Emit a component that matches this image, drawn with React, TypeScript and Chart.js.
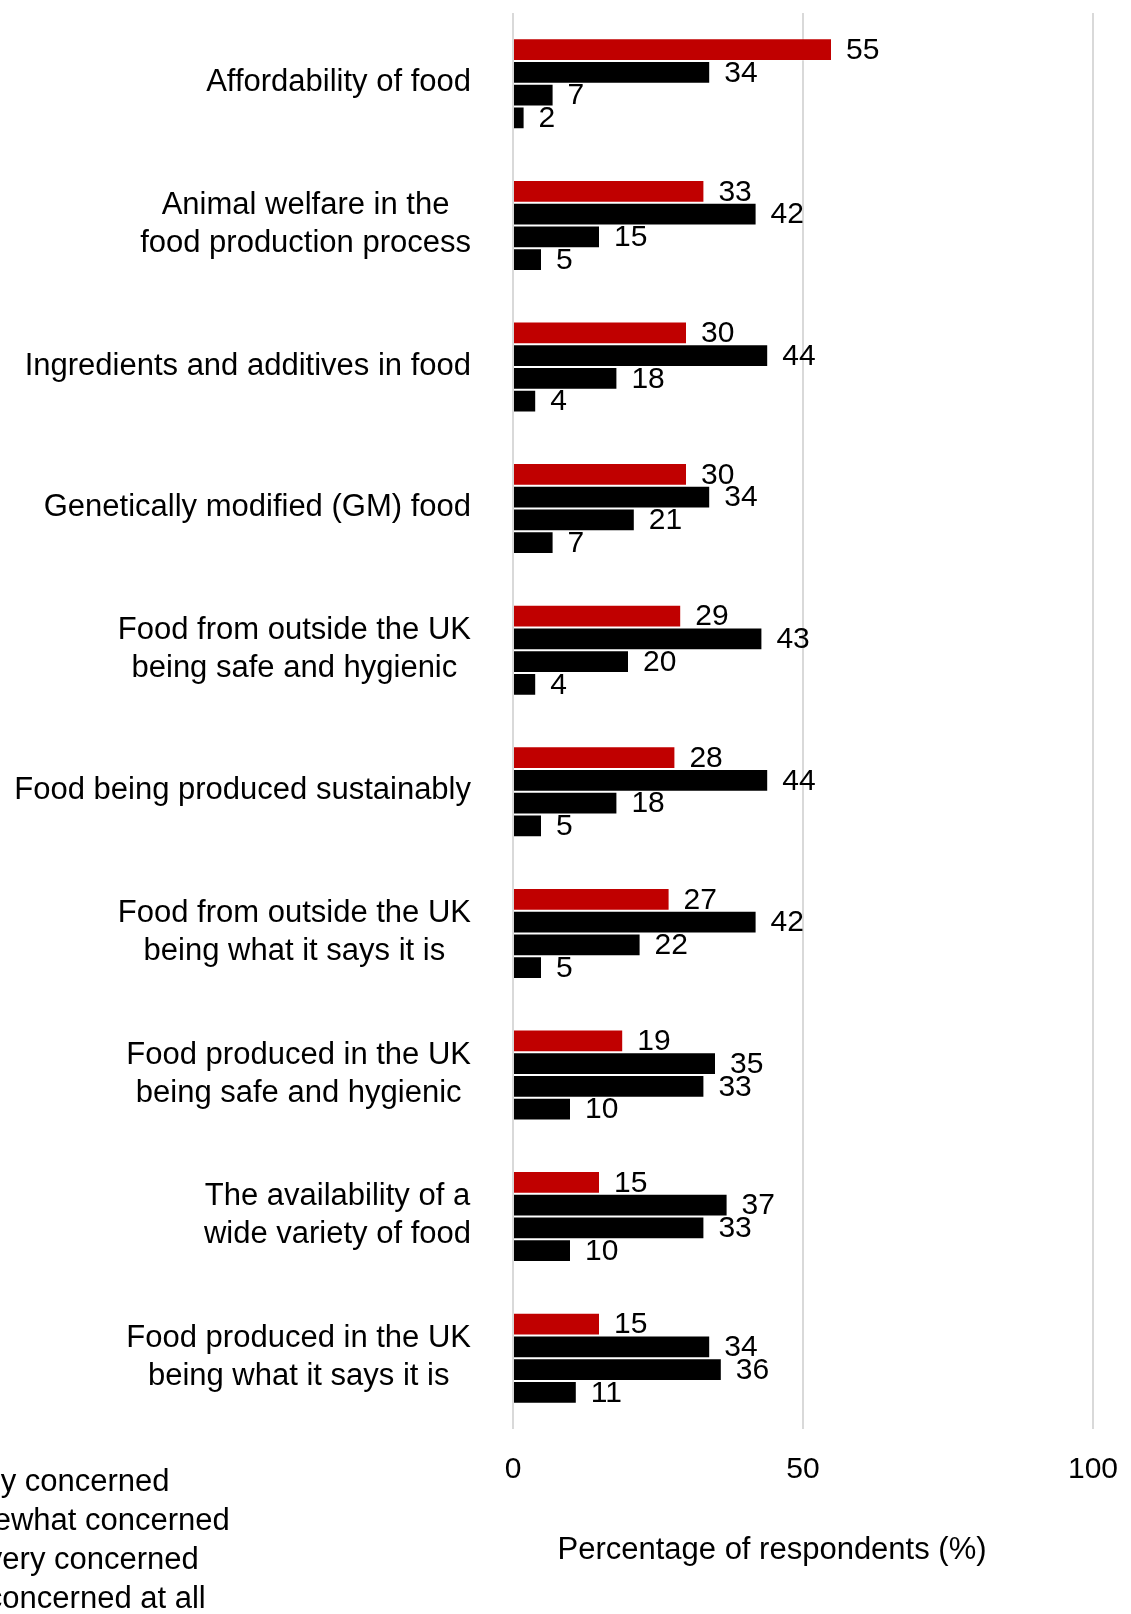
import React, { useEffect, useRef } from "react";
import { Chart, registerables } from "chart.js";

Chart.register(...registerables);

const categories: string[][] = [
  ["Affordability of food"],
  ["Animal welfare in the", "food production process"],
  ["Ingredients and additives in food"],
  ["Genetically modified (GM) food"],
  ["Food from outside the UK", "being safe and hygienic"],
  ["Food being produced sustainably"],
  ["Food from outside the UK", "being what it says it is"],
  ["Food produced in the UK", "being safe and hygienic"],
  ["The availability of a", "wide variety of food"],
  ["Food produced in the UK", "being what it says it is"],
];

const seriesNames = [
  "Highly concerned",
  "Somewhat concerned",
  "Not very concerned",
  "Not concerned at all",
];

const highlyConcerned = [55, 33, 30, 30, 29, 28, 27, 19, 15, 15];
const somewhatConcerned = [34, 42, 44, 34, 43, 44, 42, 35, 37, 34];
const notVeryConcerned = [7, 15, 18, 21, 20, 18, 22, 33, 33, 36];
const notConcernedAtAll = [2, 5, 4, 7, 4, 5, 5, 10, 10, 11];

const seriesColors = ["#C00000", "#000000", "#000000", "#000000"];

const xMin = 0;
const xMax = 100;
const xStep = 50;
const xTitle = "Percentage of respondents (%)";

const FONT = '"Liberation Sans", Arial, Helvetica, sans-serif';
const W = 1131;
const H = 1614;

const overlayPlugin = {
  id: "overlay",
  afterDatasetsDraw(chart: any) {
    const ctx = chart.ctx as CanvasRenderingContext2D;
    ctx.save();
    ctx.fillStyle = "#000";

    // data labels
    ctx.font = `30px ${FONT}`;
    ctx.textAlign = "left";
    ctx.textBaseline = "middle";
    chart.data.datasets.forEach((ds: any, di: number) => {
      const meta = chart.getDatasetMeta(di);
      meta.data.forEach((el: any, i: number) => {
        const p = el.getProps(["x", "y"], true);
        ctx.fillText(String(ds.data[i]), p.x + 14, p.y + 1);
      });
    });

    // category labels (block right-aligned, lines centred in block)
    const yScale = chart.scales.y;
    const labelRight = yScale.right - 42;
    ctx.font = `31px ${FONT}`;
    ctx.textAlign = "center";
    ctx.textBaseline = "middle";
    (chart.data.labels as any[]).forEach((lab: any, i: number) => {
      const lines: string[] = Array.isArray(lab) ? lab : [String(lab)];
      const w = Math.max(...lines.map((l) => ctx.measureText(l).width));
      const cx = labelRight - w / 2;
      const cy = yScale.getPixelForValue(i) - 1;
      const lh = 38;
      lines.forEach((l, k) => {
        ctx.fillText(l, cx, cy + (k - (lines.length - 1) / 2) * lh);
      });
    });

    // x axis title
    const xScale = chart.scales.x;
    ctx.fillText(xTitle, xScale.left + 259, xScale.top + 121);

    // legend (partly outside the left edge, as in the reference)
    ctx.textAlign = "left";
    ctx.textBaseline = "alphabetic";
    chart.data.datasets.forEach((ds: any, di: number) => {
      ctx.fillText(ds.label, -70, 1491 + di * 39);
    });

    ctx.restore();
  },
};

export default function App() {
  const canvasRef = useRef<HTMLCanvasElement | null>(null);

  useEffect(() => {
    if (!canvasRef.current) return;
    const seriesValues = [highlyConcerned, somewhatConcerned, notVeryConcerned, notConcernedAtAll];
    const chart = new Chart(canvasRef.current, {
      type: "bar",
      data: {
        labels: categories,
        datasets: seriesNames.map((name, i) => ({
          label: name,
          data: seriesValues[i],
          backgroundColor: seriesColors[i],
          borderColor: "rgba(255,255,255,0.25)",
          borderWidth: 1,
          categoryPercentage: 0.643,
          barPercentage: 1,
        })),
      },
      options: {
        indexAxis: "y",
        responsive: false,
        animation: false,
        devicePixelRatio: 1,
        layout: { padding: { top: 13, right: 38, left: 0, bottom: 0 } },
        plugins: {
          legend: { display: false },
          tooltip: { enabled: false },
          title: { display: false },
        },
        scales: {
          x: {
            type: "linear",
            position: "bottom",
            min: xMin,
            max: xMax,
            ticks: {
              stepSize: xStep,
              padding: 23,
              color: "#000",
              font: { family: FONT, size: 30 },
            },
            grid: {
              color: "#d9d9d9",
              lineWidth: 2,
              drawTicks: false,
            },
            border: { display: false },
            afterFit: (s: any) => {
              s.height = 185;
              s.paddingLeft = 0;
              s.paddingRight = 0;
            },
          },
          y: {
            type: "category",
            ticks: { display: false },
            grid: { display: false, drawTicks: false },
            border: { display: false },
            afterFit: (s: any) => {
              s.width = 513;
              s.paddingTop = 0;
              s.paddingBottom = 0;
            },
          },
        },
      },
      plugins: [overlayPlugin],
    } as any);
    return () => chart.destroy();
  }, []);

  return (
    <div style={{ position: "fixed", left: 0, top: 0, width: W, height: H, background: "#fff" }}>
      <canvas ref={canvasRef} width={W} height={H} style={{ display: "block" }} />
    </div>
  );
}
